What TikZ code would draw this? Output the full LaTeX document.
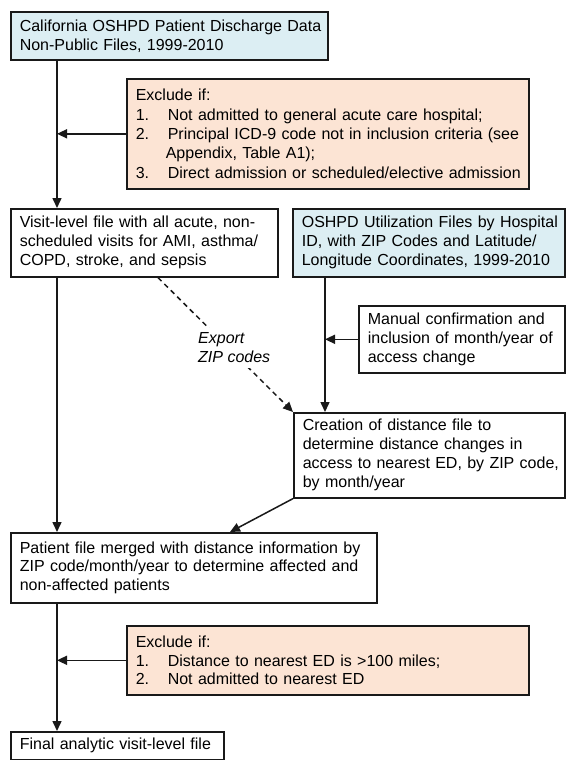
\documentclass[tikz,border=0pt]{standalone}
\usepackage{fontspec}
\setmainfont{Liberation Sans}
\usetikzlibrary{arrows.meta,calc}
\definecolor{bluefill}{RGB}{220,238,243}
\definecolor{peach}{RGB}{252,228,212}
\definecolor{edge}{RGB}{25,25,25}
\begin{document}
\begin{tikzpicture}[x=1pt,y=-1pt,
  box/.style={draw=edge, line width=1.6pt, anchor=north west, align=left,
    inner xsep=9pt, inner ysep=0pt, font=\fontsize{16}{19}\selectfont},
  src/.style={box, fill=bluefill},
  excl/.style={box, fill=peach},
  plain/.style={box, fill=white},
  arr/.style={draw=edge, line width=1.5pt, -{Triangle[length=10pt,width=9pt]}},
  dasharr/.style={arr, dash pattern=on 5pt off 4pt},
  lbl/.style={fill=white, inner xsep=3pt, inner ysep=5pt, align=left,
    font=\fontsize{16}{19}\selectfont\itshape}
]
\useasboundingbox (0,0) rectangle (566,760);
\fill[white] (0,0) rectangle (566,760);

\newcommand{\itm}[1]{\makebox[32pt][l]{#1}}

\coordinate (vx) at (57,0);
\coordinate (vx2) at (325,0);

\node[src, minimum width=317pt, minimum height=48pt, text width=299pt] (b1) at (10,11)
  {\mbox{California OSHPD Patient Discharge Data}\\Non-Public Files, 1999-2010};

\node[excl, minimum width=402pt, minimum height=110pt, text width=384pt,
      font=\fontsize{16}{19.4}\selectfont] (e1) at (126,78)
  {Exclude if:\\
   \mbox{\itm{1.}Not admitted to general acute care hospital;}\\
   \mbox{\itm{2.}Principal ICD-9 code not in inclusion criteria (see}\\
   \mbox{\hspace*{30pt}Appendix, Table A1);}\\
   \mbox{\itm{3.}Direct admission or scheduled/elective admission}};

\node[plain, minimum width=267pt, minimum height=68pt, text width=249pt] (b2) at (10,208)
  {Visit-level file with all acute, non-\\scheduled visits for AMI, asthma/\\COPD, stroke, and sepsis};

\node[src, minimum width=272pt, minimum height=68pt, text width=254pt] (u) at (292,208)
  {\mbox{OSHPD Utilization Files by Hospital}\\ID, with ZIP Codes and Latitude/\\Longitude Coordinates, 1999-2010};

\node[plain, minimum width=206pt, minimum height=67pt, text width=188pt] (m) at (358,305)
  {Manual confirmation and\\inclusion of month/year of\\access change};

\node[plain, minimum width=271pt, minimum height=85pt, text width=253pt] (c) at (293,412)
  {Creation of distance file to\\determine distance changes in\\\mbox{access to nearest ED, by ZIP code,}\\by month/year};

\node[plain, minimum width=366pt, minimum height=70pt, text width=348pt,
      font=\fontsize{16}{18.6}\selectfont] (p) at (10,532)
  {Patient file merged with distance information by\\ZIP code/month/year to determine affected and\\non-affected patients};

\node[excl, minimum width=402pt, minimum height=69pt, text width=384pt,
      font=\fontsize{16}{18.6}\selectfont] (e2) at (126,625)
  {Exclude if:\\
   \mbox{\itm{1.}Distance to nearest ED is >100 miles;}\\
   \mbox{\itm{2.}Not admitted to nearest ED}};

\node[plain, minimum width=213pt, minimum height=28pt, text width=195pt] (f) at (10,731)
  {Final analytic visit-level file};

% connectors
\draw[arr] (b1.south -| vx) -- (b2.north -| vx);
\draw[arr] (e1.west) -- (e1.west -| vx);
\draw[arr] (b2.south -| vx) -- (p.north -| vx);
\draw[arr] (u.south -| vx2) -- (c.north -| vx2);
\draw[arr] (m.west) -- (m.west -| vx2);
\draw[dasharr] ([xshift=148pt]b2.south west) -- (c.north west);
\node[lbl, anchor=west] (exp) at (195,348) {Export\\ZIP codes};
\draw[arr] (c.south west) -- ([xshift=220pt]p.north west);
\draw[arr] (p.south -| vx) -- (f.north -| vx);
\draw[arr] (e2.west) -- (e2.west -| vx);
\end{tikzpicture}
\end{document}
